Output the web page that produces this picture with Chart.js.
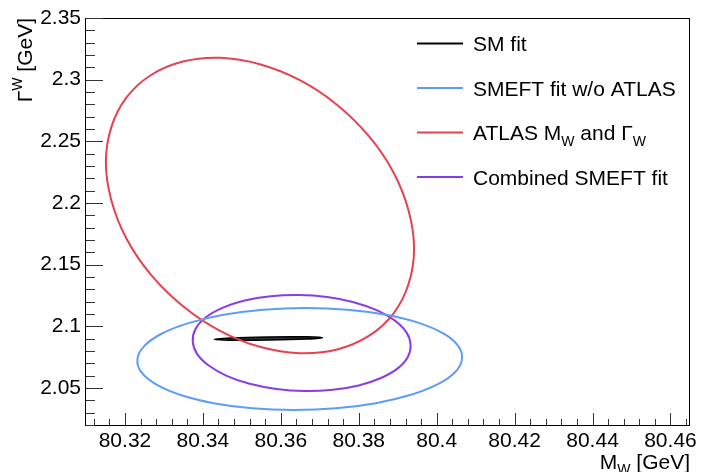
<!DOCTYPE html>
<html>
<head>
<meta charset="utf-8">
<title>MW vs GammaW</title>
<script src="https://cdn.jsdelivr.net/npm/chart.js@4/dist/chart.umd.min.js"></script>
<style>
  html, body { margin: 0; padding: 0; background: #fff; }
  #wrap { width: 701px; height: 472px; }
</style>
</head>
<body>
<div id="wrap"><canvas id="contours" width="701" height="472"></canvas></div>
<script>
// Axis ticks
const xTickValues = [80.32, 80.34, 80.36, 80.38, 80.40, 80.42, 80.44, 80.46];
const xTickLabels = ['80.32', '80.34', '80.36', '80.38', '80.4', '80.42', '80.44', '80.46'];
const yTickValues = [2.05, 2.10, 2.15, 2.20, 2.25, 2.30, 2.35];
const yTickLabels = ['2.05', '2.1', '2.15', '2.2', '2.25', '2.3', '2.35'];

// Legend entries (series names)
const seriesNames = ['SM fit', 'SMEFT fit w/o ATLAS', 'ATLAS M_W and Γ_W', 'Combined SMEFT fit'];

// Contour points (M_W, Gamma_W in GeV)
const smFitX = [80.3707, 80.3666, 80.3568, 80.3470, 80.3429, 80.3470, 80.3568, 80.3666];
const smFitY = [2.0908, 2.0915, 2.0914, 2.0906, 2.0895, 2.0888, 2.0889, 2.0897];

const smeftX = [80.4065, 80.4055, 80.4017, 80.3954, 80.3870, 80.3771, 80.3664, 80.3555,
  80.3453, 80.3365, 80.3295, 80.3250, 80.3232, 80.3242, 80.3280, 80.3343,
  80.3427, 80.3526, 80.3633, 80.3742, 80.3844, 80.3932, 80.4002, 80.4047];
const smeftY = [2.0735, 2.0842, 2.0942, 2.1028, 2.1094, 2.1135, 2.1149, 2.1135,
  2.1094, 2.1028, 2.0942, 2.0842, 2.0735, 2.0628, 2.0529, 2.0443,
  2.0377, 2.0336, 2.0322, 2.0336, 2.0377, 2.0443, 2.0529, 2.0628];

const atlasX = [80.3942, 80.3928, 80.3889, 80.3826, 80.3744, 80.3649, 80.3546, 80.3444,
  80.3349, 80.3267, 80.3204, 80.3165, 80.3151, 80.3165, 80.3204, 80.3267,
  80.3349, 80.3444, 80.3546, 80.3649, 80.3744, 80.3826, 80.3889, 80.3928];
const atlasY = [2.1630, 2.1938, 2.2250, 2.2542, 2.2797, 2.2996, 2.3125, 2.3177,
  2.3147, 2.3038, 2.2856, 2.2615, 2.2330, 2.2022, 2.1710, 2.1417,
  2.1163, 2.0964, 2.0834, 2.0782, 2.0812, 2.0922, 2.1103, 2.1345];

const combinedX = [80.3933, 80.3922, 80.3892, 80.3846, 80.3787, 80.3719, 80.3646, 80.3574,
  80.3507, 80.3450, 80.3407, 80.3381, 80.3374, 80.3385, 80.3415, 80.3461,
  80.3520, 80.3589, 80.3661, 80.3733, 80.3800, 80.3857, 80.3900, 80.3926];
const combinedY = [2.0852, 2.0953, 2.1048, 2.1131, 2.1196, 2.1238, 2.1254, 2.1244,
  2.1209, 2.1149, 2.1071, 2.0978, 2.0878, 2.0777, 2.0682, 2.0599,
  2.0534, 2.0492, 2.0476, 2.0486, 2.0521, 2.0581, 2.0659, 2.0752];

const FONT = '"Liberation Sans", Arial, Helvetica, sans-serif';
const colors = ['#000000', '#5f9df5', '#e8404f', '#8a3de6'];

function contour(label, xs, ys, color, extra) {
  return Object.assign({
    label,
    data: xs.map((x, i) => ({ x, y: ys[i] })),
    showLine: true,
    spanGaps: true,
    borderColor: color,
    borderWidth: 2,
    pointRadius: 0,
    tension: 0.4,
    fill: false
  }, extra || {});
}

// draws text pieces, sub pieces are smaller and shifted
function drawRich(ctx, pieces, x, y, size, subDy) {
  let cx = x;
  pieces.forEach(p => {
    ctx.font = (p.sub ? Math.round(size * 0.68) : size) + 'px ' + FONT;
    ctx.fillText(p.text, cx, p.sub ? y + subDy : y);
    cx += ctx.measureText(p.text).width;
  });
}

function richWidth(ctx, pieces, size) {
  return pieces.reduce((w, p) => {
    ctx.font = (p.sub ? Math.round(size * 0.68) : size) + 'px ' + FONT;
    return w + ctx.measureText(p.text).width;
  }, 0);
}

// turns "ATLAS M_W and Γ_W" into pieces
function toPieces(str) {
  const out = [];
  str.split(/(_W)/).forEach(s => {
    if (s === '_W') out.push({ text: 'W', sub: true });
    else if (s) out.push({ text: s, sub: false });
  });
  return out;
}

// contours are closed curves: let the line element wrap around
const closedCurves = {
  id: 'closedCurves',
  afterDatasetsUpdate(chart) {
    chart.getSortedVisibleDatasetMetas().forEach(meta => {
      const line = meta.dataset;
      if (!line) return;
      line._loop = true;
      line._pointsUpdated = false;
      delete line._segments;
      delete line._path;
    });
  }
};

const rootStyle = {
  id: 'rootStyle',
  afterDraw(chart) {
    const { ctx, chartArea } = chart;
    const xs = chart.scales.x;
    const ys = chart.scales.y;
    const L = Math.round(chartArea.left), R = Math.round(chartArea.right);
    const T = Math.round(chartArea.top), B = Math.round(chartArea.bottom);
    ctx.save();

    // frame
    ctx.strokeStyle = '#000';
    ctx.lineWidth = 1;
    ctx.strokeRect(L - 0.5, T + 0.5, R - L, B - T);

    // ticks pointing inward, 5 minor divisions
    ctx.strokeStyle = '#333';
    ctx.beginPath();
    for (let k = Math.ceil(xs.min / 0.004 - 1e-6); k * 0.004 <= xs.max + 1e-9; k++) {
      const px = Math.round(xs.getPixelForValue(k * 0.004)) + 0.5;
      const len = k % 5 === 0 ? 12 : 6;
      ctx.moveTo(px, B);
      ctx.lineTo(px, B - len);
    }
    for (let k = Math.ceil(ys.min / 0.01 - 1e-6); k * 0.01 <= ys.max + 1e-9; k++) {
      const py = Math.round(ys.getPixelForValue(k * 0.01)) + 0.5;
      const len = k % 5 === 0 ? 17 : 9;
      ctx.moveTo(L, py);
      ctx.lineTo(L + len, py);
    }
    ctx.stroke();

    ctx.fillStyle = '#000';
    ctx.textBaseline = 'alphabetic';
    ctx.textAlign = 'left';

    // x title, right aligned to frame
    const xTitle = [{ text: 'M', sub: false }, { text: 'W', sub: true }, { text: ' [GeV]', sub: false }];
    const xw = richWidth(ctx, xTitle, 21);
    drawRich(ctx, xTitle, R - xw, 469, 21, 5);

    // y title, rotated, top aligned to frame
    const yTitle = [{ text: 'Γ', sub: false }, { text: 'W', sub: true }, { text: ' [GeV]', sub: false }];
    const yw = richWidth(ctx, yTitle, 21);
    ctx.save();
    ctx.translate(32, T);
    ctx.rotate(-Math.PI / 2);
    drawRich(ctx, yTitle, -yw, 0, 21, -10);
    ctx.restore();

    // legend
    seriesNames.forEach((name, i) => {
      const ly = 43.5 + i * 44.5;
      ctx.strokeStyle = colors[i];
      ctx.lineWidth = 2;
      ctx.beginPath();
      ctx.moveTo(417, ly);
      ctx.lineTo(463, ly);
      ctx.stroke();
      ctx.fillStyle = '#000';
      drawRich(ctx, toPieces(name), 473, ly + 7.5, 21, 6);
    });

    ctx.restore();
  }
};

Chart.defaults.font.family = FONT;
Chart.defaults.color = '#000';

new Chart(document.getElementById('contours'), {
  type: 'scatter',
  data: {
    datasets: [
      contour(seriesNames[1], smeftX, smeftY, colors[1]),
      contour(seriesNames[2], atlasX, atlasY, colors[2]),
      contour(seriesNames[3], combinedX, combinedY, colors[3]),
      contour(seriesNames[0], smFitX, smFitY, colors[0], {
        fill: 'shape',
        backgroundColor: 'rgba(0,0,0,0.8)',
        borderWidth: 1.5
      })
    ]
  },
  options: {
    responsive: false,
    animation: false,
    events: [],
    layout: { padding: { top: 18, right: 8, left: 0, bottom: 0 } },
    plugins: {
      legend: { display: false },
      tooltip: { enabled: false }
    },
    scales: {
      x: {
        type: 'linear',
        min: 80.31,
        max: 80.465,
        grid: { display: false, drawTicks: false },
        border: { display: false },
        afterBuildTicks: scale => { scale.ticks = xTickValues.map(v => ({ value: v })); },
        afterFit: scale => { scale.height = 47; },
        ticks: {
          padding: 4,
          maxRotation: 0,
          font: { size: 21 },
          callback: (v, i) => xTickLabels[i]
        }
      },
      y: {
        type: 'linear',
        min: 2.02,
        max: 2.35,
        grid: { display: false, drawTicks: false },
        border: { display: false },
        afterBuildTicks: scale => { scale.ticks = yTickValues.map(v => ({ value: v })); },
        afterFit: scale => { scale.width = 86; },
        ticks: {
          padding: 5,
          font: { size: 21 },
          callback: (v, i) => yTickLabels[i]
        }
      }
    }
  },
  plugins: [closedCurves, rootStyle]
});
</script>
</body>
</html>
